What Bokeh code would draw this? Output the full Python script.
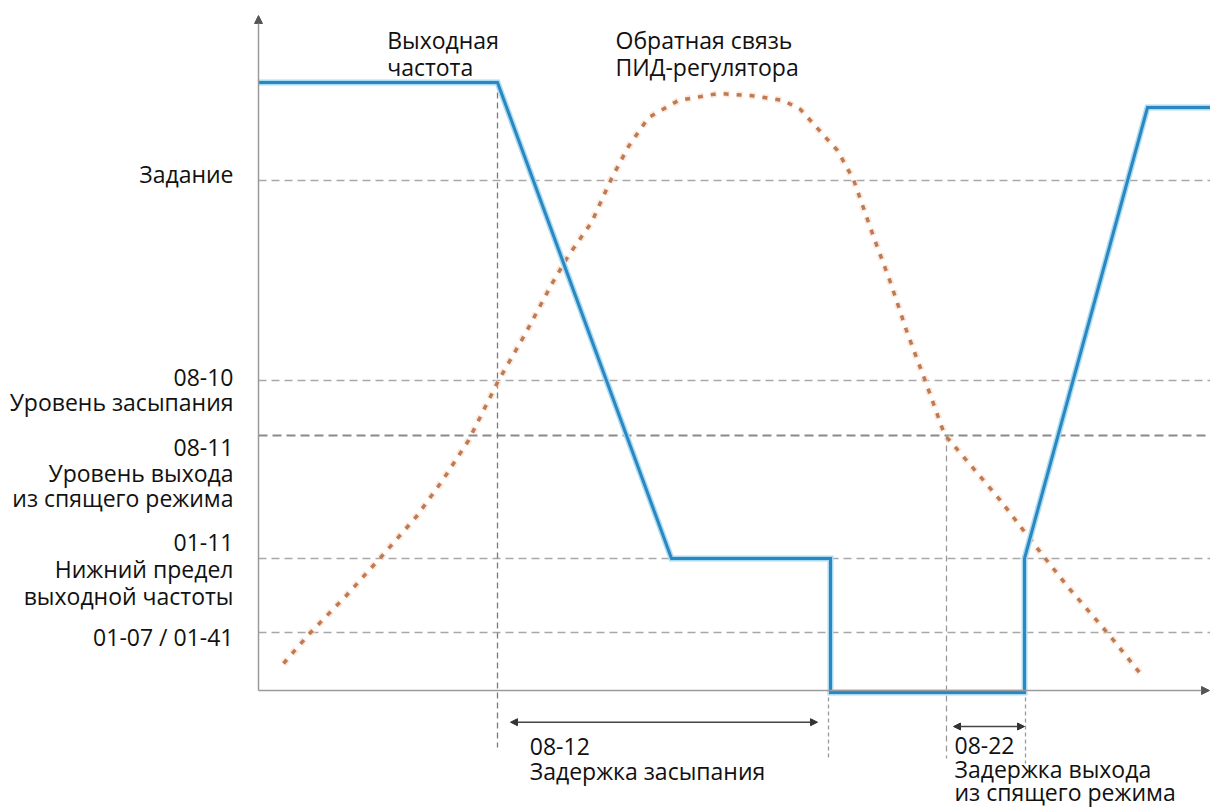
from bokeh.plotting import figure
from bokeh.models import Range1d, Label, Arrow, NormalHead
from bokeh.embed import file_html
from bokeh.resources import INLINE

# ---------------- data ----------------
# reference levels (same units as the chart's vertical scale)
level_names = ["Задание", "08-10", "08-11", "01-11", "01-07 / 01-41"]
level_values = [51.0, 31.0, 25.5, 13.2, 5.8]

# output frequency (blue)
out_t = [0, 23.9, 41.3, 57.2, 57.2, 76.6, 76.6, 88.9, 95.2]
out_f = [60.8, 60.8, 13.2, 13.2, -0.2, -0.2, 13.2, 58.3, 58.3]

# PID feedback (orange, dotted)
fb_t = [2.5, 5.2, 8.7, 12.3, 15.8, 18.4, 21.0, 24.0, 26.7, 29.3, 31.0, 33.3,
        35.3, 37.0, 39.0, 42.0, 46.0, 49.2, 52.5, 54.2, 57.9, 59.5, 61.5, 63.2,
        64.9, 66.7, 68.6, 70.9, 74.2, 77.5, 80.9, 85.2, 88.5]
fb_v = [2.7, 5.8, 9.4, 13.4, 17.4, 21.0, 25.0, 31.0, 35.7, 40.6, 43.5, 46.8,
        51.2, 54.4, 57.3, 59.0, 59.7, 59.5, 59.0, 58.1, 54.0, 51.1, 45.4, 40.8,
        35.7, 30.9, 25.6, 22.9, 19.0, 14.7, 10.4, 5.4, 1.3]

# event times
t_sleep_start = 23.9   # feedback reaches 08-10
t_sleep = 57.0         # drive goes to sleep
t_wake_start = 68.8    # feedback falls to 08-11
t_wake = 76.7          # drive wakes up

FONT = "Open Sans"
FS = "23px"
TXT = "#111111"

p = figure(width=1210, height=808, x_range=Range1d(-25.8, 95.2), y_range=Range1d(-11.8, 69.0),
           output_backend="svg", toolbar_location=None, min_border=0,
           x_axis_type=None, y_axis_type=None)
p.outline_line_color = None
p.background_fill_color = "white"
p.border_fill_color = "white"

# horizontal reference levels
for name, v in zip(level_names, level_values):
    if name == "08-11":
        p.segment(x0=[0], x1=[95.2], y0=[v], y1=[v], line_color="#8a8a8a", line_width=1.8, line_dash="9 5")
    else:
        p.segment(x0=[0], x1=[95.2], y0=[v], y1=[v], line_color="#a8a8a8", line_width=1.5, line_dash="8 5")

# vertical event markers
p.segment(x0=[t_sleep_start], x1=[t_sleep_start], y0=[out_f[1]], y1=[-5.7],
          line_color="#7a7a7a", line_width=1.3, line_dash="6 4")
p.segment(x0=[t_sleep], x1=[t_sleep], y0=[0], y1=[-6.7],
          line_color="#9a9a9a", line_width=1.3, line_dash="4 3")
p.segment(x0=[t_wake_start], x1=[t_wake_start], y0=[level_values[2]], y1=[-6.8],
          line_color="#9a9a9a", line_width=1.3, line_dash="6 4")
p.segment(x0=[t_wake], x1=[t_wake], y0=[0], y1=[-7.3],
          line_color="#9a9a9a", line_width=1.3, line_dash="4 3")

# axes with arrows
p.add_layout(Arrow(x_start=0, y_start=0, x_end=0, y_end=67.5, line_color="#9a9a9a", line_width=1.5,
                   end=NormalHead(size=8, fill_color="#555555", line_color="#555555")))
p.add_layout(Arrow(x_start=0, y_start=0, x_end=95.1, y_end=0, line_color="#9a9a9a", line_width=1.5,
                   end=NormalHead(size=8, fill_color="#555555", line_color="#555555")))

# curves
p.line(fb_t, fb_v, line_color="#f6d9c6", line_width=7, line_dash="6 7", line_alpha=0.6)
p.line(fb_t, fb_v, line_color="#c07a52", line_width=3.5, line_dash="5 8")
p.line(out_t, out_f, line_color="#a9dbf3", line_width=6, line_join="miter")
p.line(out_t, out_f, line_color="#2a87c0", line_width=3, line_join="miter")

# delay arrows
p.add_layout(Arrow(x_start=25.2, y_start=-3.17, x_end=55.9, y_end=-3.17, line_color="#444444", line_width=1.5,
                   start=NormalHead(size=7, fill_color="#333333", line_color="#333333"),
                   end=NormalHead(size=7, fill_color="#333333", line_color="#333333")))
p.add_layout(Arrow(x_start=69.5, y_start=-3.6, x_end=76.6, y_end=-3.6, line_color="#444444", line_width=1.5,
                   start=NormalHead(size=7, fill_color="#333333", line_color="#333333"),
                   end=NormalHead(size=7, fill_color="#333333", line_color="#333333")))


def block(lines, x, y0, align="left", step=2.6):
    for i, s in enumerate(lines):
        p.add_layout(Label(x=x, y=y0 - i * step, text=s, text_font=FONT, text_font_size=FS,
                           text_color=TXT, text_align=align, text_baseline="alphabetic"))


# left level labels
block(["Задание"], -2.5, 51.7, "right")
block(["08-10", "Уровень засыпания"], -2.5, 31.33, "right", 2.5)
block(["08-11", "Уровень выхода", "из спящего режима"], -2.5, 24.33, "right", 2.55)
block(["01-11", "Нижний предел", "выходной частоты"], -2.5, 14.83, "right", 2.67)
block(["01-07 / 01-41"], -2.5, 5.33, "right")

# top labels
block(["Выходная", "частота"], 12.87, 65.1, "left", 2.77)
block(["Обратная связь", "ПИД-регулятора"], 35.7, 65.1, "left", 2.77)

# bottom labels
block(["08-12", "Задержка засыпания"], 27.13, -5.6, "left", 2.45)
block(["08-22", "Задержка выхода", "из спящего режима"], 69.6, -5.5, "left", 2.33)

open("out.html", "w").write(file_html(p, INLINE))
